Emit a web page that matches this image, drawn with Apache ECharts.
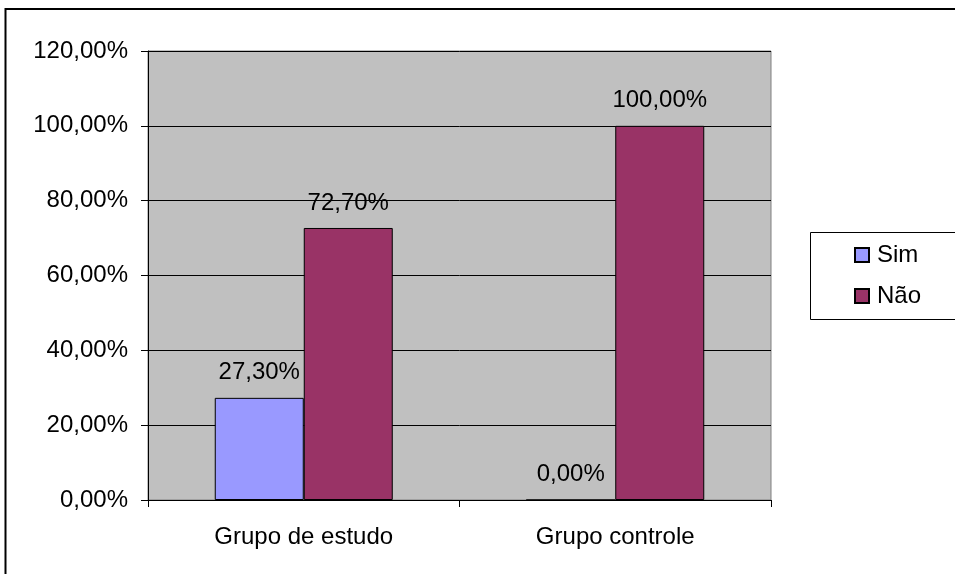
<!DOCTYPE html>
<html>
<head>
<meta charset="utf-8">
<script src="https://cdn.jsdelivr.net/npm/echarts@6/dist/echarts.min.js"></script>
<style>
  html, body { margin: 0; padding: 0; background: #fff; }
  #chart { width: 955px; height: 574px; }
</style>
</head>
<body>
<div id="chart"></div>
<script>
// Categories and series values (percent)
const categories = ['Grupo de estudo', 'Grupo controle'];
const seriesNames = ['Sim', 'Não'];
const simValues = [27.3, 0];
const naoValues = [72.7, 100];
const yTicks = { min: 0, max: 120, interval: 20 };

const FONT = 'Liberation Sans, Arial, sans-serif';
const FS = 24;

function pct(v) {
  return Number(v).toFixed(2).replace('.', ',') + '%';
}

const chart = echarts.init(document.getElementById('chart'), null, { renderer: 'canvas' });

const labelCfg = {
  show: true,
  position: 'top',
  distance: 13,
  color: '#000',
  fontFamily: FONT,
  fontSize: FS,
  formatter: p => pct(p.value)
};

chart.setOption({
  animation: false,
  backgroundColor: '#fff',
  textStyle: { fontFamily: FONT },
  grid: {
    left: 148, top: 51, right: 184, bottom: 74,
    show: true,
    backgroundColor: '#C0C0C0',
    borderColor: '#808080',
    borderWidth: 1
  },
  legend: {
    orient: 'vertical',
    left: 849,
    top: 238,
    itemWidth: 14,
    itemHeight: 14,
    itemGap: 17,
    icon: 'rect',
    textStyle: { fontFamily: FONT, fontSize: FS, color: '#000', padding: [0, 0, 0, 3] },
    data: seriesNames
  },
  xAxis: {
    type: 'category',
    data: categories,
    axisLine: { show: true, lineStyle: { color: '#000', width: 1 } },
    axisTick: { show: true, length: 7, alignWithLabel: false, lineStyle: { color: '#000' } },
    axisLabel: { color: '#000', fontFamily: FONT, fontSize: FS, margin: 25 },
    splitLine: { show: false }
  },
  yAxis: {
    type: 'value',
    min: yTicks.min,
    max: yTicks.max,
    interval: yTicks.interval,
    axisLine: { show: true, lineStyle: { color: '#000', width: 1 } },
    axisTick: { show: true, length: 7, inside: false, lineStyle: { color: '#000' } },
    axisLabel: { color: '#000', fontFamily: FONT, fontSize: FS, margin: 20, formatter: v => pct(v) },
    splitLine: { show: true, lineStyle: { color: '#000', width: 1 } }
  },
  series: [
    {
      name: seriesNames[0],
      type: 'bar',
      data: simValues,
      barWidth: 89,
      barGap: '0%',
      itemStyle: { color: '#9999FF', borderColor: '#000', borderWidth: 1 },
      label: labelCfg
    },
    {
      name: seriesNames[1],
      type: 'bar',
      data: naoValues,
      barWidth: 89,
      barGap: '0%',
      itemStyle: { color: '#993366', borderColor: '#000', borderWidth: 1 },
      label: labelCfg
    }
  ],
  graphic: [
    {
      type: 'rect',
      z: 0,
      shape: { x: 810.5, y: 232.5, width: 200, height: 87 },
      style: { fill: '#fff', stroke: '#000', lineWidth: 1 }
    },
    {
      type: 'rect',
      z: 100,
      silent: true,
      shape: { x: 5.5, y: 9, width: 1100, height: 1100 },
      style: { fill: 'none', stroke: '#000', lineWidth: 2 }
    }
  ]
});
</script>
</body>
</html>
